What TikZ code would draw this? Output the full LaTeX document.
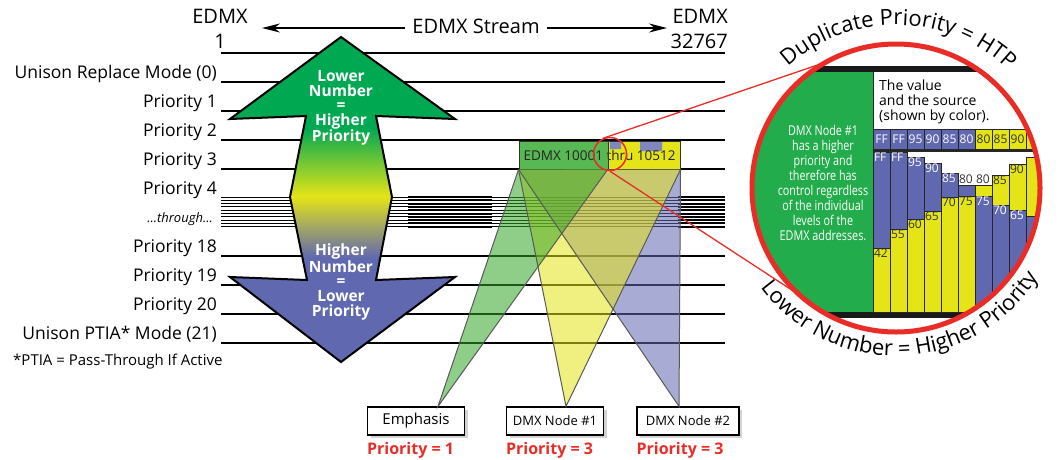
\documentclass[tikz,border=0pt]{standalone}
\usepackage{fontspec}
\setmainfont{Open Sans}
\newfontfamily\narrowsans[FakeStretch=0.8]{Open Sans}
\usetikzlibrary{arrows.meta,calc,positioning,shadows,decorations.text}
\definecolor{priogreen}{RGB}{0,168,82}
\definecolor{beamgreen}{RGB}{50,165,40}
\definecolor{chartgreen}{RGB}{34,172,76}
\definecolor{rangegreen}{RGB}{88,184,84}
\definecolor{prioyellow}{RGB}{228,228,24}
\definecolor{prioblue}{RGB}{96,104,176}
\definecolor{priored}{RGB}{234,44,38}
\pgfdeclareverticalshading{priofade}{100bp}{color(0bp)=(prioblue); color(41bp)=(prioblue); color(50.5bp)=(prioyellow); color(61bp)=(priogreen); color(100bp)=(priogreen)}
\newcommand{\fsz}[2]{\fontsize{#1}{#2}\selectfont}

\begin{document}
\begin{tikzpicture}[x=1pt,y=-1pt,
  level/.style={line width=1.3pt},
  hot/.style={line width=2.6pt},
  lefttag/.style={anchor=base east,inner sep=0pt,font=\fsz{17.5}{20}},
  toptag/.style={anchor=base,inner sep=0pt,font=\fsz{20}{22}},
  streamarrow/.style={-{Stealth[length=18pt,width=9pt]},line width=1.5pt},
  arrowtext/.style={align=center,text=white,font=\bfseries\fsz{15.5}{14.6}},
  srcnode/.style={draw,line width=1.2pt,fill=white,minimum height=28pt,inner sep=0pt,
    drop shadow={opacity=0.35,shadow xshift=3pt,shadow yshift=-3pt}},
  priotag/.style={anchor=base west,inner sep=0pt,text=priored,font=\bfseries\fsz{16}{18}},
  beamedge/.style={draw=black!65,line width=1pt},
  cell/.style={draw=black!85,line width=0.8pt},
  cellprioblue/.style={text=white},
  cellprioyellow/.style={text=black!80},
  celltext/.style={inner sep=0.8pt,font=\fsz{12}{12}},
  arctext/.style={decorate,decoration={text along path,text align=center,
    text={|\fsz{22}{22}|#1}}},
]
\useasboundingbox (0,0) rectangle (1060,459);

% address levels
\foreach \y in {53,82,111,140,169,256,285,314,343}
  \draw[level] (221,\y) -- (725,\y);
\foreach \k in {0,...,9}
  \draw[line width=1pt] (221,{197+3.3*\k}) -- (725,{197+3.3*\k});
\foreach \y in {140,169}
  \draw[hot] (403,\y) -- (503,\y) (700,\y) -- (725,\y);
\foreach \k in {0,...,9}
  \draw[line width=2pt] (408,{197+3.3*\k}) -- (492,{197+3.3*\k}) (678,{197+3.3*\k}) -- (725,{197+3.3*\k});
\foreach \y in {256,285,314,343}
  \draw[hot] (678,\y) -- (725,\y);

% stream header
\node[toptag] (firstword) at (220,23) {EDMX};
\node[toptag] (firstnum) at (220,48) {1};
\node[toptag,anchor=base east] (lastword) at (728,23) {EDMX};
\node[toptag,anchor=base east] (lastnum) at (728,48) {32767};
\node[toptag] (stream) at (476,33) {EDMX Stream};
\coordinate (leftend) at (262,28);
\coordinate (rightend) at (667,28);
\draw[streamarrow] (stream.west |- leftend) ++(-7,0) -- (leftend);
\draw[streamarrow] (stream.east |- rightend) ++(7,0) -- (rightend);

% level names
\foreach \y/\t [count=\n] in {82/Unison Replace Mode (0),111/Priority 1,140/Priority 2,
    169/Priority 3,198/Priority 4,256/Priority 18,285/Priority 19,314/Priority 20,
    343/Unison PTIA* Mode (21)}
  \node[lefttag] (tag\n) at (217,\y-4) {\t};
\node[lefttag,font=\itshape\fsz{13}{15}] (through) at (213,222) {...through...};
\node[anchor=base west,inner sep=0pt,font=\fsz{15}{18}] (ptia) at (13,365) {*PTIA = Pass-Through If Active};

% double arrow
\shadedraw[shading=priofade,draw=black,line width=2pt]
  (341,37) -- (455,119) -- (376,116) -- (392,197) -- (376,280) -- (455,277) -- (341,362)
  -- (230,277) -- (307,280) -- (290,197) -- (306,116) -- (230,119) -- cycle;
\node[arrowtext] (upword) at (341,108) {Lower\\Number\\=\\Higher\\Priority};
\node[arrowtext] (downword) at (341,282) {Higher\\Number\\=\\Lower\\Priority};

% address range box
\fill[prioyellow] (519,141) rectangle (680,169);
\fill[rangegreen] (519,141) rectangle (608,169);
\fill[prioblue!80] (610,142) rectangle (621,149) (640,142) rectangle (662,151);
\node[draw=black!80,line width=1pt,minimum width=161pt,minimum height=28pt,inner sep=0pt,
  font=\fsz{13.5}{15},text=black!85] (range) at (599.5,155) {EDMX 10001 thru 10512};
\draw[black!80,line width=1pt] (608,141) -- (608,169);
\coordinate (split) at (608,169);

% sources
\node[srcnode,minimum width=97pt,font=\fsz{15}{18}] (emph) at (416,421) {Emphasis};
\node[srcnode,minimum width=97pt,font=\fsz{13}{16}] (node1) at (555,421) {DMX Node \#1};
\node[srcnode,minimum width=102pt,font=\fsz{13}{16}] (node2) at (688,421) {DMX Node \#2};
\node[priotag] (emphprio) at ([yshift=-19pt]emph.south west) {Priority = 1};
\node[priotag] (node1prio) at ([yshift=-19pt]node1.south west) {Priority = 3};
\node[priotag] (node2prio) at ([yshift=-19pt]node2.south west) {Priority = 3};
\coordinate (emphtip) at ([xshift=22pt]emph.north);
\coordinate (node1tip) at ([xshift=11pt]node1.north);
\coordinate (node2tip) at ([xshift=-9pt]node2.north);

% beams
\fill[prioblue,fill opacity=0.55] (range.south west) -- (range.south east) -- (node2tip) -- cycle;
\fill[prioyellow,fill opacity=0.55] (range.south west) -- (range.south east) -- (node1tip) -- cycle;
\fill[beamgreen,fill opacity=0.55] (range.south west) -- (split) -- (emphtip) -- cycle;
\draw[beamedge] (range.south west) -- (node2tip) -- (range.south east);
\draw[beamedge] (range.south west) -- (node1tip) -- (range.south east);
\draw[beamedge] (range.south west) -- (emphtip) -- (split);

% magnifier
\coordinate (loupe) at (896,188);
\coordinate (loupetop) at ($(loupe)+(121:145pt)$);
\coordinate (loupebottom) at ($(loupe)+(226:145pt)$);
\node[circle,draw=priored,line width=1.5pt,minimum size=33pt,inner sep=0pt] (lens) at (610,154) {};
\draw[priored,line width=1.3pt] (lens.115) -- (loupetop);
\draw[priored,line width=1.3pt] (lens.south) -- (loupebottom);

\begin{scope}
  \clip (loupe) circle[radius=143pt];
  \fill[white] (loupe) circle[radius=143pt];
  \fill[black!90] (740,66) rectangle (1060,72);
  \fill[chartgreen] (740,72) rectangle (873,312);
  \fill[black!90] (740,312) rectangle (1060,318);
  \draw[black!85,line width=0.8pt] (873,72) -- (873,312);
  \node[anchor=north west,align=left,inner sep=0pt,font=\fsz{14}{15}] (valuenote) at (879,79.5)
    {The value\\and the source\\(shown by color).};
  \fill[black!85] (873,149) rectangle (1060,152);
  \foreach \c/\hc/\hv/\ut/\uc/\ub/\uv/\lc/\lv in {
      0/prioblue/FF/152/prioblue/248/FF/prioyellow/42,
      1/prioblue/FF/152/prioblue/229/FF/prioyellow/55,
      2/prioblue/95/157/prioblue/219/95/prioyellow/60,
      3/prioblue/90/163/prioblue/211/90/prioyellow/65,
      4/prioblue/85/173/prioblue/197/85/prioyellow/70,
      5/prioblue/80/185/prioblue/196//prioyellow/75,
      6/prioyellow/80/185/prioyellow/196//prioblue/75,
      7/prioyellow/85/175/prioyellow/205/85/prioblue/70,
      8/prioyellow/90/164/prioyellow/210/90/prioblue/65,
      9/prioyellow//157/prioyellow/216//prioblue/}{
    \pgfmathsetmacro{\cx}{873+17*\c}
    \filldraw[cell,fill=\hc] (\cx,129) rectangle (\cx+17,149);
    \node[cell\hc,celltext] (head\c) at (\cx+8.5,139) {\hv};
    \filldraw[cell,fill=\uc] (\cx,\ut) rectangle (\cx+17,\ub);
    \filldraw[cell,fill=\lc] (\cx,\ub) rectangle (\cx+17,312);
    \node[cell\uc,celltext,anchor=north west] (up\c) at (\cx,\ut) {\uv};
    \node[cell\lc,celltext,anchor=north west] (low\c) at (\cx,\ub) {\lv};
  }
  \node[cellprioyellow,celltext,anchor=south west] (up5tag) at (958,185) {80};
  \node[cellprioyellow,celltext,anchor=south west] (up6tag) at (975,185) {80};
  \node[align=center,text=white,inner sep=0pt,font=\narrowsans\fsz{13.5}{15}] (greennote) at (823,183)
    {DMX Node \#1\\has a higher\\priority and\\therefore has\\control regardless\\of the individual\\levels of the\\EDMX addresses.};
\end{scope}
\draw[priored,line width=5pt] (loupe) circle[radius=144pt];
\path[arctext={Duplicate Priority = HTP}] ($(loupe)+(175:163pt)$) arc[start angle=175,end angle=3,radius=163pt];
\path[arctext={Lower Number = Higher Priority}] ($(loupe)+(184:168pt)$) arc[start angle=184,end angle=360,radius=168pt];
\end{tikzpicture}
\end{document}
